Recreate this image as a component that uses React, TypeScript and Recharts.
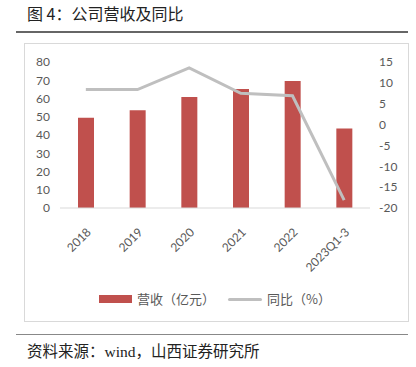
import React from "react";
import { ComposedChart, Bar, Line, XAxis, YAxis } from "recharts";

// categories and values
const years: string[] = ["2018", "2019", "2020", "2021", "2022", "2023Q1-3"];
const revenue: number[] = [49.5, 53.5, 60.8, 65.2, 69.6, 43.5];
const yoy: number[] = [8.4, 8.4, 13.6, 7.5, 6.9, -18.1];
const leftTicks: number[] = [0, 10, 20, 30, 40, 50, 60, 70, 80];
const rightTicks: number[] = [-20, -15, -10, -5, 0, 5, 10, 15];

const data = years.map((name, i) => ({ name, revenue: revenue[i], yoy: yoy[i] }));

const BAR = "#C0504D";
const LINE = "#BFBFBF";
const TEXT = "#595959";
const tickFont = { fontSize: 12, fill: TEXT, fontFamily: "Lato, 'Open Sans', sans-serif" };

// rotated category label, anchored at its end near the tick
const XTick = (props: any) => {
  const { x, y, payload } = props;
  const tx = x + 3;
  const ty = y + 14;
  return (
    <text
      x={tx}
      y={ty}
      dy="0.35em"
      textAnchor="end"
      transform={`rotate(-45, ${tx}, ${ty})`}
      {...tickFont}
    >
      {payload.value}
    </text>
  );
};

const App: React.FC = () => {
  return (
    <div
      style={{
        position: "absolute",
        left: 0,
        top: 0,
        width: 416,
        height: 367,
        background: "#fff",
        fontFamily: "'Noto Sans CJK SC', sans-serif",
      }}
    >
      {/* title */}
      <div style={{ position: "absolute", left: 27, top: 3, fontSize: 16, color: "#222", lineHeight: "20px" }}>
        图 4：公司营收及同比
      </div>
      <div style={{ position: "absolute", left: 16, top: 31, width: 392, height: 1.5, background: "#666" }} />

      {/* chart frame */}
      <div
        style={{
          position: "absolute",
          left: 24,
          top: 43,
          width: 385,
          height: 279,
          border: "1px solid #D9D9D9",
          boxSizing: "border-box",
        }}
      />

      <div style={{ position: "absolute", left: 24, top: 43 }}>
        <ComposedChart
          width={385}
          height={279}
          data={data}
          margin={{ top: 19, right: 0, left: 0, bottom: 0 }}
        >
          <XAxis
            dataKey="name"
            height={114}
            interval={0}
            tickLine={false}
            axisLine={{ stroke: "#D9D9D9" }}
            tick={<XTick />}
          />
          <YAxis
            yAxisId="left"
            orientation="left"
            width={36}
            domain={[0, 80]}
            ticks={leftTicks}
            interval={0}
            axisLine={false}
            tickLine={false}
            tickMargin={4}
            tick={tickFont}
          />
          <YAxis
            yAxisId="right"
            orientation="right"
            width={39}
            domain={[-20, 15]}
            ticks={rightTicks}
            interval={0}
            axisLine={false}
            tickLine={false}
            tickMargin={3}
            tick={{ ...tickFont, textAnchor: "start" }}
          />
          <Bar yAxisId="left" dataKey="revenue" fill={BAR} barSize={16} isAnimationActive={false} />
          <Line
            yAxisId="right"
            dataKey="yoy"
            type="linear"
            stroke={LINE}
            strokeWidth={3}
            dot={false}
            isAnimationActive={false}
          />
        </ComposedChart>
      </div>

      {/* legend */}
      <div style={{ position: "absolute", left: 99, top: 295, width: 33, height: 8, background: BAR }} />
      <div style={{ position: "absolute", left: 137, top: 289, fontSize: 13, color: TEXT, lineHeight: "20px" }}>
        营收（亿元）
      </div>
      <div style={{ position: "absolute", left: 228, top: 297.5, width: 34, height: 3, background: LINE, borderRadius: 2 }} />
      <div style={{ position: "absolute", left: 267, top: 289, fontSize: 13, color: TEXT, lineHeight: "20px" }}>
        同比（%）
      </div>

      {/* source */}
      <div style={{ position: "absolute", left: 16, top: 333.5, width: 392, height: 1.5, background: "#888" }} />
      <div
        style={{
          position: "absolute",
          left: 27,
          top: 342,
          fontSize: 15.5,
          color: "#222",
          lineHeight: "20px",
          fontFamily: "'Liberation Serif', 'Noto Sans CJK SC', serif",
        }}
      >
        资料来源：wind，山西证券研究所
      </div>
    </div>
  );
};

export default App;
